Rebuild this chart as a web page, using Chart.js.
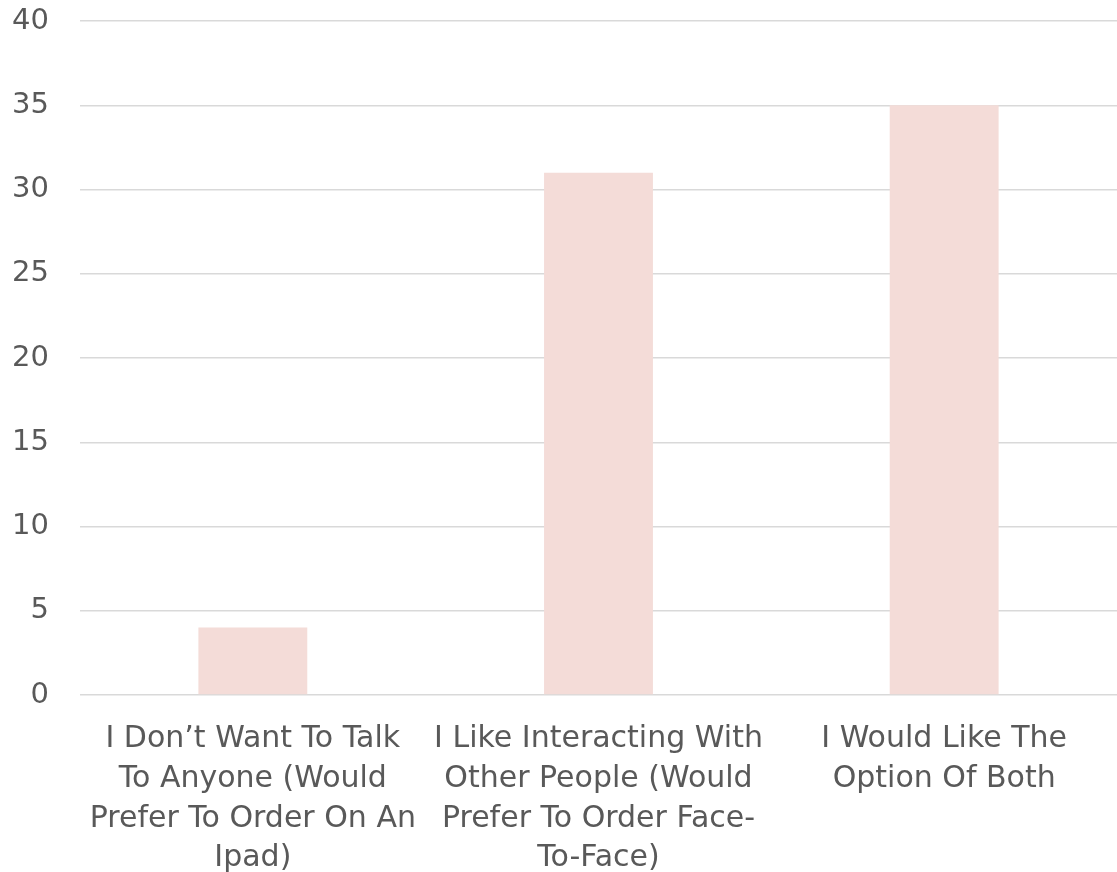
<!DOCTYPE html>
<html>
<head>
<meta charset="utf-8">
<script src="https://cdn.jsdelivr.net/npm/chart.js@4/dist/chart.umd.min.js"></script>
<style>
  html, body { margin: 0; padding: 0; background: #fff; }
  #wrap { width: 1117px; height: 872px; }
</style>
</head>
<body>
<div id="wrap"><canvas id="mycanvas"></canvas></div>
<script>
// answers and counts
var respostas = [
    ["I Don\u2019t Want To Talk", "To Anyone (Would", "Prefer To Order On An", "Ipad)"],
    ["I Like Interacting With", "Other People (Would", "Prefer To Order Face-", "To-Face)"],
    ["I Would Like The", "Option Of Both"]
];
var totais = [4, 31, 35];
var eixoY = [0, 5, 10, 15, 20, 25, 30, 35, 40];

var cor = '#F4DCD8';
var texto = '#595959';
var fonte = "'DejaVu Sans', sans-serif";

var ctx = document.getElementById('mycanvas');
var barGraph = new Chart(ctx, {
    type: 'bar',
    data: {
        labels: respostas,
        datasets: [{
            data: totais,
            backgroundColor: cor,
            categoryPercentage: 1.0,
            barPercentage: 0.315
        }]
    },
    options: {
        responsive: true,
        maintainAspectRatio: false,
        animation: false,
        layout: { padding: { top: 21, right: 0, left: 0, bottom: 0 } },
        plugins: { legend: { display: false }, tooltip: { enabled: false } },
        scales: {
            x: {
                grid: { display: false, drawTicks: false },
                border: { display: false },
                ticks: {
                    color: texto,
                    font: { family: fonte, size: 30, lineHeight: 1.33 },
                    padding: 24,
                    maxRotation: 0,
                    autoSkip: false
                },
                afterFit: function(scale){ scale.height = 177; }
            },
            y: {
                min: eixoY[0],
                max: eixoY[eixoY.length - 1],
                afterBuildTicks: function(scale){
                    scale.ticks = eixoY.map(function(v){ return { value: v }; });
                },
                grid: { color: '#D9D9D9', lineWidth: 1.5, drawTicks: false },
                border: { display: false },
                ticks: {
                    color: texto,
                    font: { family: fonte, size: 29 },
                    padding: 31
                },
                afterFit: function(scale){
                    scale.width = 80;
                    scale.paddingTop = 0;
                    scale.paddingBottom = 0;
                }
            }
        }
    }
});
</script>
</body>
</html>
